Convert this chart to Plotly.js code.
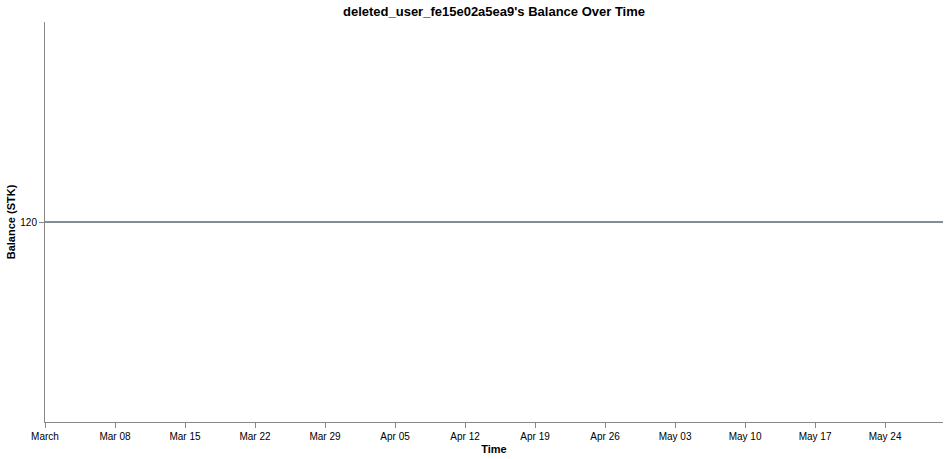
<!DOCTYPE html>
<html>
<head>
<meta charset="utf-8">
<script src="https://cdn.plot.ly/plotly-3.0.1.min.js"></script>
<style>
  html, body { margin: 0; padding: 0; background: #fff; }
  #chart { width: 951px; height: 459px; }
</style>
</head>
<body>
<div id="chart"></div>
<script>
// balance history (flat at 120 STK)
const dates = ['2020-03-01', '2020-04-15', '2020-05-29 19:00'];
const balances = [120, 120, 120];

const tickDates = ['2020-03-01', '2020-03-08', '2020-03-15', '2020-03-22', '2020-03-29',
  '2020-04-05', '2020-04-12', '2020-04-19', '2020-04-26', '2020-05-03',
  '2020-05-10', '2020-05-17', '2020-05-24'];
const tickLabels = ['March', 'Mar 08', 'Mar 15', 'Mar 22', 'Mar 29', 'Apr 05', 'Apr 12',
  'Apr 19', 'Apr 26', 'May 03', 'May 10', 'May 17', 'May 24'];

const axisColor = '#888';
const font = 'Liberation Sans, Arial, sans-serif';

const data = [{
  x: dates,
  y: balances,
  type: 'scatter',
  mode: 'lines',
  line: { color: '#848c99', width: 2 },
  hoverinfo: 'x+y'
}];

const layout = {
  width: 951,
  height: 459,
  margin: { l: 45, r: 8, t: 22, b: 37 },
  paper_bgcolor: '#fff',
  plot_bgcolor: '#fff',
  font: { family: font, size: 10, color: '#000' },
  showlegend: false,
  title: {
    text: "<b>deleted_user_fe15e02a5ea9's Balance Over Time</b>",
    font: { family: font, size: 13, color: '#000' },
    x: 0.5, xref: 'paper', xanchor: 'center',
    y: 1 - 11 / 459, yref: 'container', yanchor: 'middle'
  },
  xaxis: {
    type: 'date',
    range: ['2020-03-01', '2020-05-29 19:00'],
    tickvals: tickDates,
    ticktext: tickLabels,
    ticks: 'outside', ticklen: 5, tickcolor: axisColor, tickwidth: 1,
    showline: true, linecolor: axisColor, linewidth: 1,
    showgrid: false, zeroline: false,
    tickfont: { family: font, size: 10, color: '#000' },
    title: { text: '<b>Time</b>', font: { family: font, size: 11, color: '#000' }, standoff: 4 }
  },
  yaxis: {
    range: [119, 121],
    tickvals: [120],
    ticktext: ['120'],
    ticks: 'outside', ticklen: 5, tickcolor: axisColor, tickwidth: 1,
    showline: true, linecolor: axisColor, linewidth: 1,
    showgrid: false, zeroline: false,
    tickfont: { family: font, size: 10, color: '#000' },
    title: { text: '<b>Balance (STK)</b>', font: { family: font, size: 11, color: '#000' }, standoff: 2 }
  }
};

Plotly.newPlot('chart', data, layout, { displayModeBar: false, responsive: false });
</script>
</body>
</html>
